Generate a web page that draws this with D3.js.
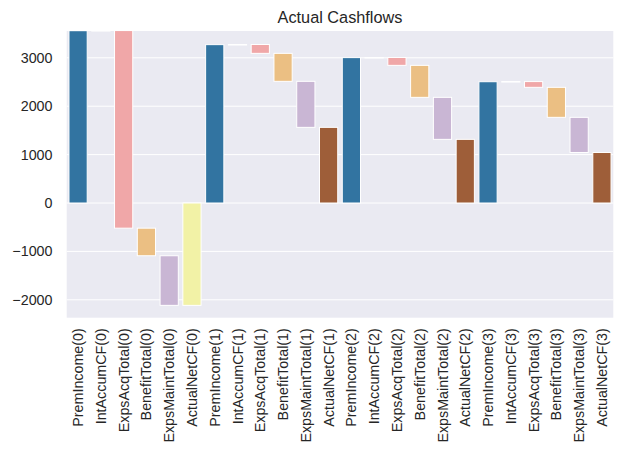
<!DOCTYPE html>
<html><head><meta charset="utf-8">
<script src="https://cdn.jsdelivr.net/npm/d3@7"></script>
<style>body{margin:0;background:#fff;} text{font-family:"Liberation Sans",Arial,sans-serif;}</style>
</head><body><svg id="c" width="623" height="464"></svg>
<script>
const periods = ["0","1","2","3"];
const items = ["PremIncome","IntAccumCF","ExpsAcqTotal","BenefitTotal","ExpsMaintTotal","ActualNetCF"];
const premIncome = [3560, 3272, 3004, 2506];
const intAccumCF = [3, 3, 3, 3];
const expsAcqTotal = [-4083, -183, -163, -119];
const benefitTotal = [-570, -578, -661, -620];
const expsMaintTotal = [-1025, -951, -868, -726];
const yTicks = [-2000, -1000, 0, 1000, 2000, 3000];
const itemColors = {PremIncome:"#3274a1", IntAccumCF:"#ffffff", ExpsAcqTotal:"#f0a7a8", BenefitTotal:"#ebbf83", ExpsMaintTotal:"#c9b6d4"};
const netPosColor = "#9e5e39", netNegColor = "#f2f2a6";

// build waterfall rows
const rows = [];
periods.forEach((p,i)=>{
  const deltas = [premIncome[i], intAccumCF[i], expsAcqTotal[i], benefitTotal[i], expsMaintTotal[i]];
  let run = 0;
  deltas.forEach((d,k)=>{
    rows.push({label: items[k]+"("+p+")", y0: run, y1: run+d, color: itemColors[items[k]]});
    run += d;
  });
  rows.push({label: "ActualNetCF("+p+")", y0: 0, y1: run, color: run>=0?netPosColor:netNegColor});
});

const svg = d3.select("#c");
const L=66.7, R=613.3, T=31, B=317.7;
const x = d3.scaleBand().domain(rows.map(r=>r.label)).range([L,R]).paddingInner(0.2).paddingOuter(0.1);
const y = d3.scaleLinear().domain([-2370, 3554]).range([B,T]);

svg.append("rect").attr("x",L).attr("y",T).attr("width",R-L).attr("height",B-T).attr("fill","#eaeaf2");
svg.append("defs").append("clipPath").attr("id","clip").append("rect").attr("x",L).attr("y",T).attr("width",R-L).attr("height",B-T);

svg.append("g").selectAll("line").data(yTicks).join("line")
  .attr("x1",L).attr("x2",R).attr("y1",d=>y(d)).attr("y2",d=>y(d))
  .attr("stroke","#fff").attr("stroke-width",1);

svg.append("g").attr("clip-path","url(#clip)").selectAll("rect").data(rows).join("rect")
  .attr("x",d=>x(d.label)).attr("width",x.bandwidth())
  .attr("y",d=>y(Math.max(d.y0,d.y1))).attr("height",d=>Math.max(0.5,Math.abs(y(d.y0)-y(d.y1))))
  .attr("fill",d=>d.color).attr("stroke","#fff").attr("stroke-width",1);

const fmt = d=> d<0 ? "\u2212"+Math.abs(d) : String(d);
svg.append("g").selectAll("text").data(yTicks).join("text")
  .attr("x",52.5).attr("y",d=>y(d)).attr("dy","0.35em").attr("text-anchor","end")
  .attr("font-size",14.3).attr("fill","#262626").text(fmt);

svg.append("g").selectAll("text").data(rows).join("text")
  .attr("transform",d=>`translate(${x(d.label)+x.bandwidth()/2},${B+10.5}) rotate(-90)`)
  .attr("text-anchor","end").attr("dy","0.35em")
  .attr("font-size",14.3).attr("fill","#262626").text(d=>d.label);

svg.append("text").attr("x",(L+R)/2).attr("y",23).attr("text-anchor","middle")
  .attr("font-size",16.3).attr("fill","#262626").text("Actual Cashflows");
</script></body></html>
